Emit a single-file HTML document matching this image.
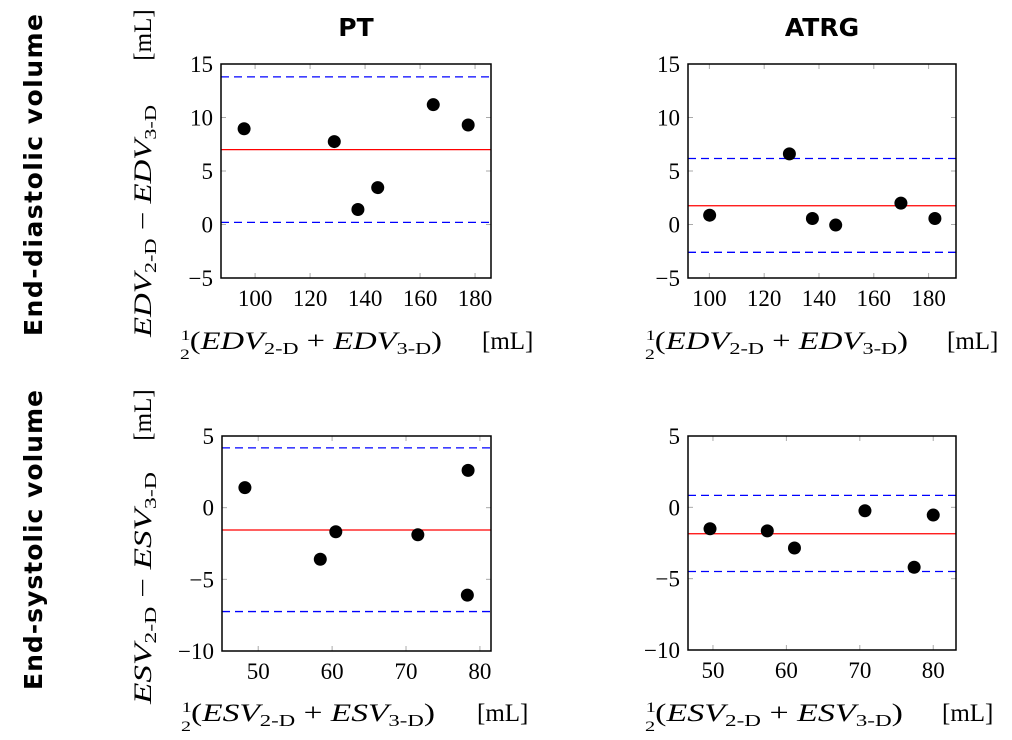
<!DOCTYPE html>
<html><head><meta charset="utf-8"><style>
html,body{margin:0;padding:0;background:#fff;}
svg{display:block;}
.tk{font-family:"Liberation Serif",serif;font-size:23px;fill:#000;}
.lab{font-family:"Liberation Serif",serif;font-size:25px;fill:#000;}
.hdr{font-family:"DejaVu Sans","Liberation Sans",sans-serif;font-weight:bold;font-size:25px;fill:#000;}
</style></head><body>
<svg id="fig" width="1012" height="740" viewBox="0 0 1012 740" xmlns="http://www.w3.org/2000/svg">
<text class="hdr" x="356" y="36" text-anchor="middle" font-size="29">PT</text>
<text class="hdr" x="822" y="36" text-anchor="middle" font-size="29">ATRG</text>
<text class="hdr" transform="translate(42,175) rotate(-90)" text-anchor="middle" textLength="322">End-diastolic volume</text>
<text class="hdr" transform="translate(42,540) rotate(-90)" text-anchor="middle" textLength="300">End-systolic volume</text>
</svg>
<script>
// Panel data (top level arrays)
const edvPtX = [96, 128.8, 137.4, 144.6, 164.8, 177.5];
const edvPtY = [8.95, 7.75, 1.4, 3.45, 11.2, 9.3];
const edvPtLines = [7.0, 13.8, 0.2];
const edvAtrgX = [100.1, 129.2, 137.6, 146.1, 169.9, 182.3];
const edvAtrgY = [0.87, 6.6, 0.56, -0.05, 2.0, 0.56];
const edvAtrgLines = [1.75, 6.17, -2.6];
const esvPtX = [48.2, 58.4, 60.5, 71.6, 78.4, 78.3];
const esvPtY = [1.4, -3.6, -1.68, -1.89, 2.6, -6.1];
const esvPtLines = [-1.56, 4.17, -7.25];
const esvAtrgX = [49.6, 57.4, 61.1, 70.7, 77.4, 80.0];
const esvAtrgY = [-1.5, -1.65, -2.85, -0.24, -4.2, -0.54];
const esvAtrgLines = [-1.85, 0.84, -4.5];
const edvXTicks = [100, 120, 140, 160, 180];
const edvYTicks = [-5, 0, 5, 10, 15];
const esvXTicks = [50, 60, 70, 80];
const esvYTicks = [-10, -5, 0, 5];

const NS = "http://www.w3.org/2000/svg";
const svg = document.getElementById('fig');
function mk(tag, attrs, parent){
  const e = document.createElementNS(NS, tag);
  for (const k in attrs) e.setAttribute(k, attrs[k]);
  (parent||svg).appendChild(e);
  return e;
}
function fmt(v){ return v < 0 ? '\u2212' + Math.abs(v) : String(v); }

function panel(p){
  const g = mk('g', {});
  
  
  const sx = v => p.L + (v - p.xmin) / (p.xmax - p.xmin) * (p.R - p.L);
  const sy = v => p.B - (v - p.ymin) / (p.ymax - p.ymin) * (p.B - p.T);
  p.xt.forEach(v => {
    const x = sx(v);
    mk('line', {x1:x, x2:x, y1:p.B, y2:p.B-5, stroke:'#aaa', 'stroke-width':1}, g);
    mk('line', {x1:x, x2:x, y1:p.T, y2:p.T+5, stroke:'#aaa', 'stroke-width':1}, g);
    const t = mk('text', {x:x, y:p.B+28, 'text-anchor':'middle', class:'tk'}, g);
    t.textContent = fmt(v);
    
    
  });
  p.yt.forEach(v => {
    const y = sy(v);
    mk('line', {x1:p.L, x2:p.L+5, y1:y, y2:y, stroke:'#aaa', 'stroke-width':1}, g);
    mk('line', {x1:p.R, x2:p.R-5, y1:y, y2:y, stroke:'#aaa', 'stroke-width':1}, g);
    const t = mk('text', {x:p.L-8, y:y+8, 'text-anchor':'end', class:'tk'}, g);
    t.textContent = fmt(v);
    
    
  });
  const mean = mk('line', {x1:p.L, x2:p.R, y1:sy(p.lines[0]), y2:sy(p.lines[0]), stroke:'#f00', 'stroke-width':1.3}, g);
  
  
  const up = mk('line', {x1:p.L, x2:p.R, y1:sy(p.lines[1]), y2:sy(p.lines[1]), stroke:'#00f', 'stroke-width':1.3, 'stroke-dasharray':'8,5'}, g);
  
  
  const lo = mk('line', {x1:p.L, x2:p.R, y1:sy(p.lines[2]), y2:sy(p.lines[2]), stroke:'#00f', 'stroke-width':1.3, 'stroke-dasharray':'8,5'}, g);
  
  
  p.xs.forEach((xv, i) => {
    const c = mk('circle', {cx:sx(xv), cy:sy(p.ys[i]), r:6.5, fill:'#000'}, g);
    
    
  });
  const fr = mk('rect', {x:p.L, y:p.T, width:p.R-p.L, height:p.B-p.T, fill:'none', stroke:'#000', 'stroke-width':1.5}, g);
  
  
  const xl = mk('text', {x:p.xlabX, y:p.xlabY, class:'lab', textLength:p.xlabW, lengthAdjust:'spacingAndGlyphs'}, g);
  
  
  xl.innerHTML = '<tspan font-size="15" dy="-9">1</tspan><tspan font-size="15" dx="-8" dy="19">2</tspan><tspan dy="-10">(</tspan><tspan font-style="italic">' + p.v + '</tspan><tspan font-size="17" dy="5">2-D</tspan><tspan dy="-5"> + </tspan><tspan font-style="italic">' + p.v + '</tspan><tspan font-size="17" dy="5">3-D</tspan><tspan dy="-5">)</tspan>';
  const xu = mk('text', {x:p.unitX, y:p.xlabY, class:'lab'}, g);
  xu.textContent = '[mL]';
  
  
  if (p.ytitle) {
    const yl = mk('text', {transform:'translate(151,' + p.ytY + ') rotate(-90)', class:'lab', 'text-anchor':'middle', textLength:232, lengthAdjust:'spacingAndGlyphs'}, g);
    
    
    yl.innerHTML = '<tspan font-style="italic">' + p.v + '</tspan><tspan font-size="17" dy="5">2-D</tspan><tspan dy="-5"> \u2212 </tspan><tspan font-style="italic">' + p.v + '</tspan><tspan font-size="17" dy="5">3-D</tspan>';
    const yu = mk('text', {transform:'translate(151,' + p.yuY + ') rotate(-90)', class:'lab', 'text-anchor':'middle'}, g);
    yu.textContent = '[mL]';
    
    
  }
}

panel({name:'edv-pt-panel', L:221, R:491, T:64, B:278, xmin:87.6, xmax:185.8, ymin:-5, ymax:15,
  xs:edvPtX, ys:edvPtY, lines:edvPtLines, xt:edvXTicks, yt:edvYTicks, v:'EDV',
  xlabX:180, xlabY:349, xlabW:262, unitX:482, ytitle:true, ytY:221, yuY:35});
panel({name:'edv-atrg-panel', L:688, R:956, T:64, B:278, xmin:92.2, xmax:190, ymin:-5, ymax:15,
  xs:edvAtrgX, ys:edvAtrgY, lines:edvAtrgLines, xt:edvXTicks, yt:edvYTicks, v:'EDV',
  xlabX:645, xlabY:349, xlabW:263, unitX:947, ytitle:false});
panel({name:'esv-pt-panel', L:222, R:491, T:436, B:651, xmin:45.1, xmax:81.5, ymin:-10, ymax:5,
  xs:esvPtX, ys:esvPtY, lines:esvPtLines, xt:esvXTicks, yt:esvYTicks, v:'ESV',
  xlabX:181, xlabY:721, xlabW:254, unitX:477, ytitle:true, ytY:588, yuY:415});
panel({name:'esv-atrg-panel', L:688, R:956, T:436, B:650, xmin:46.6, xmax:83.1, ymin:-10, ymax:5,
  xs:esvAtrgX, ys:esvAtrgY, lines:esvAtrgLines, xt:esvXTicks, yt:esvYTicks, v:'ESV',
  xlabX:645, xlabY:721, xlabW:258, unitX:942, ytitle:false});
</script>
</body></html>
